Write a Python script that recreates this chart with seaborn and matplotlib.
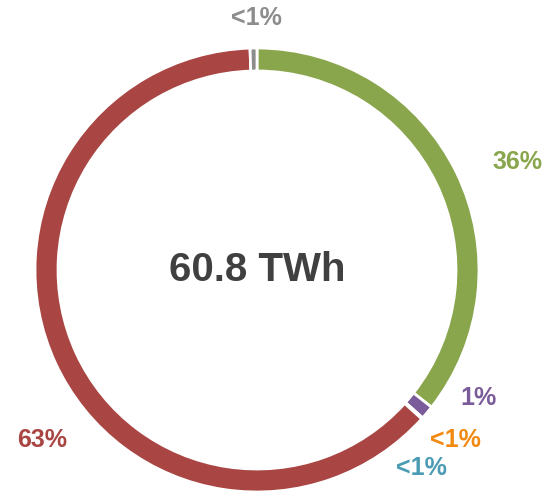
import matplotlib
matplotlib.use("Agg")
import matplotlib.pyplot as plt
import seaborn as sns

# data, clockwise from 12 o'clock
sources = ['Green', 'Purple', 'Orange', 'Teal', 'Red', 'Gray']
shares = [35.6, 1.0, 0.05, 0.05, 62.8, 0.5]
labels = ['36%', '1%', '<1%', '<1%', '63%', '<1%']
colors = ['#8aa64d', '#7b5c9a', '#f28a12', '#4a9bb3', '#a94643', '#8c8c8c']
total_label = '60.8 TWh'

sns.set_theme(style='white')
plt.rcParams['font.family'] = ['Liberation Sans Narrow', 'Liberation Sans', 'DejaVu Sans']

fig = plt.figure(figsize=(5.47, 4.92), dpi=100)
ax = fig.add_axes([0, 0, 1, 1])
cx, cy, r = 257, 222, 222
ax.pie(shares, colors=colors, startangle=90, counterclock=False,
       center=(cx, cy), radius=r,
       wedgeprops=dict(width=23, edgecolor='white', linewidth=2))
ax.set_xlim(0, 547)
ax.set_ylim(0, 492)
ax.set_aspect('equal')
ax.axis('off')

# label positions (pixels from top-left)
label_pos = [(517, 162), (478, 398), (455, 440), (421, 468), (42, 440), (256, 18)]
for (x, y), lab, col in zip(label_pos, labels, colors):
    ax.text(x, 492 - y, lab, color=col, fontsize=18, fontweight='bold',
            ha='center', va='center')

ax.text(cx, 492 - 270, total_label, color='#404040', fontsize=29,
        fontweight='bold', ha='center', va='center')

fig.savefig('out.png', dpi=100)
